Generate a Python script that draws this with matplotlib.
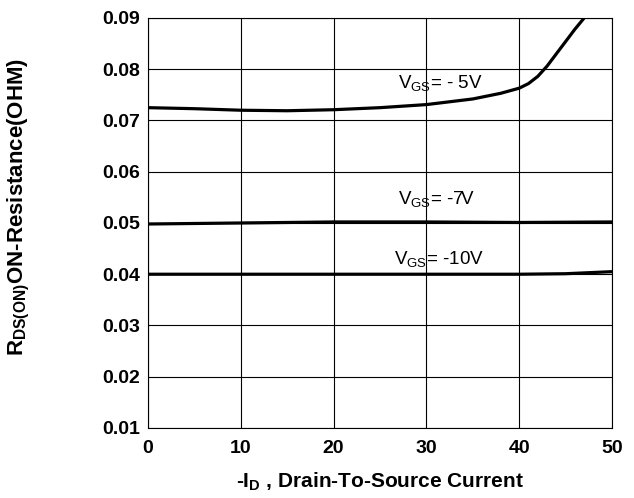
import matplotlib.pyplot as plt

plt.rcParams['font.family'] = ['Liberation Sans', 'DejaVu Sans']

# -ID (A) vs RDS(ON) (ohm)
id_5v = [0, 5, 10, 15, 20, 25, 30, 35, 38, 40, 41, 42, 43, 44, 45, 46, 47]
rds_5v = [0.0725, 0.0723, 0.0720, 0.0719, 0.0721, 0.0725, 0.0731, 0.0742,
          0.0753, 0.0763, 0.0772, 0.0786, 0.0806, 0.0830, 0.0854, 0.0878, 0.0900]

id_7v = [0, 10, 20, 30, 40, 50]
rds_7v = [0.0498, 0.0500, 0.0502, 0.0502, 0.0501, 0.0502]

id_10v = [0, 10, 20, 30, 40, 45, 50]
rds_10v = [0.0400, 0.0400, 0.0400, 0.0400, 0.0400, 0.0401, 0.0405]

labels = [r"V$_{\mathregular{GS}}$= - 5V", r"V$_{\mathregular{GS}}$= -7V",
          r"V$_{\mathregular{GS}}$= -10V"]
label_pos = [(26.9, 0.0771), (26.9, 0.0546), (26.5, 0.0429)]

xticks = [0, 10, 20, 30, 40, 50]
yticks = [0.01, 0.02, 0.03, 0.04, 0.05, 0.06, 0.07, 0.08, 0.09]


def plot_rds():
    fig = plt.figure(figsize=(6.34, 4.98), dpi=100)
    ax = fig.add_axes([0.2334, 0.1406, 0.7319, 0.8233])

    for x, y in [(id_5v, rds_5v), (id_7v, rds_7v), (id_10v, rds_10v)]:
        ax.plot(x, y, color='black', linewidth=2.3, solid_capstyle='butt')

    for txt, (x, y) in zip(labels, label_pos):
        ax.text(x, y, txt, fontsize=13.5, va='center', ha='left')

    ax.set_xlim(0, 50)
    ax.set_ylim(0.01, 0.09)
    ax.set_xticks(xticks)
    ax.set_yticks(yticks)
    ax.set_xticklabels([str(t) for t in xticks], fontsize=14, fontweight='bold')
    ax.set_yticklabels([f"{t:.2f}" for t in yticks], fontsize=14, fontweight='bold')
    ax.tick_params(length=0)
    ax.tick_params(axis='y', pad=6)
    ax.tick_params(axis='x', pad=9)
    ax.grid(True, color='black', linewidth=0.8)
    for s in ax.spines.values():
        s.set_linewidth(0.8)

    ax.set_xlabel(r"-I$_{\mathregular{D}}$ , Drain-To-Source Current",
                  fontsize=15, fontweight='bold', labelpad=9)
    ax.set_ylabel(r"R$_{\mathregular{DS(ON)}}$ON-Resistance(OHM)",
                  fontsize=16, fontweight='bold')
    ax.yaxis.set_label_coords(-0.25, 0.538)

    fig.savefig('out.png', dpi=100)


if __name__ == "__main__":
    plot_rds()
